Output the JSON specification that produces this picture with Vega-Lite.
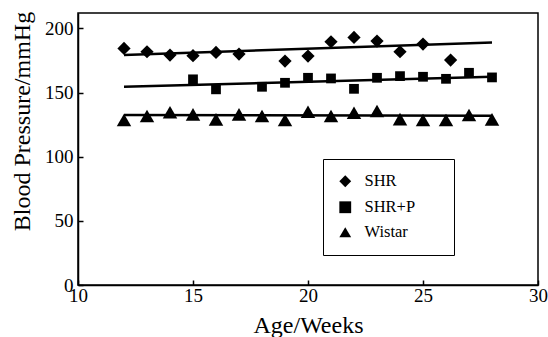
{
  "$schema": "https://vega.github.io/schema/vega-lite/v6.json",
  "width": 460,
  "height": 272,
  "autosize": {"type": "none"},
  "padding": {"left": 78, "top": 13, "right": 10, "bottom": 52},
  "background": "white",
  "config": {
    "font": "Liberation Serif",
    "view": {"stroke": "black", "strokeWidth": 1.5},
    "axis": {
      "grid": false,
      "domainColor": "black",
      "domainWidth": 1.5,
      "tickColor": "black",
      "tickWidth": 1.5,
      "tickSize": -5,
      "labelColor": "black",
      "labelFont": "Liberation Serif",
      "labelFontSize": 19,
      "titleFont": "Liberation Serif",
      "titleFontSize": 24,
      "titleFontWeight": "normal",
      "titleColor": "black",
      "labelFlush": false
    }
  },
  "datasets": {
    "points": [
      {"week": 12, "bp": 184.4, "group": "SHR"},
      {"week": 13, "bp": 181.8, "group": "SHR"},
      {"week": 14, "bp": 179.2, "group": "SHR"},
      {"week": 15, "bp": 178.7, "group": "SHR"},
      {"week": 16, "bp": 181.3, "group": "SHR"},
      {"week": 17, "bp": 180.0, "group": "SHR"},
      {"week": 19, "bp": 174.5, "group": "SHR"},
      {"week": 20, "bp": 178.4, "group": "SHR"},
      {"week": 21, "bp": 189.6, "group": "SHR"},
      {"week": 22, "bp": 193.0, "group": "SHR"},
      {"week": 23, "bp": 190.1, "group": "SHR"},
      {"week": 24, "bp": 181.8, "group": "SHR"},
      {"week": 25, "bp": 187.8, "group": "SHR"},
      {"week": 26.2, "bp": 175.3, "group": "SHR"},
      {"week": 15, "bp": 160.3, "group": "SHR+P"},
      {"week": 16, "bp": 152.5, "group": "SHR+P"},
      {"week": 18, "bp": 154.5, "group": "SHR+P"},
      {"week": 19, "bp": 157.6, "group": "SHR+P"},
      {"week": 20, "bp": 161.5, "group": "SHR+P"},
      {"week": 21, "bp": 161.0, "group": "SHR+P"},
      {"week": 22, "bp": 152.9, "group": "SHR+P"},
      {"week": 23, "bp": 161.5, "group": "SHR+P"},
      {"week": 24, "bp": 162.8, "group": "SHR+P"},
      {"week": 25, "bp": 162.3, "group": "SHR+P"},
      {"week": 26, "bp": 160.7, "group": "SHR+P"},
      {"week": 27, "bp": 165.4, "group": "SHR+P"},
      {"week": 28, "bp": 161.8, "group": "SHR+P"},
      {"week": 12, "bp": 128.6, "group": "Wistar"},
      {"week": 13, "bp": 131.7, "group": "Wistar"},
      {"week": 14, "bp": 134.6, "group": "Wistar"},
      {"week": 15, "bp": 133.0, "group": "Wistar"},
      {"week": 16, "bp": 129.1, "group": "Wistar"},
      {"week": 17, "bp": 133.0, "group": "Wistar"},
      {"week": 18, "bp": 131.7, "group": "Wistar"},
      {"week": 19, "bp": 128.6, "group": "Wistar"},
      {"week": 20, "bp": 135.0, "group": "Wistar"},
      {"week": 21, "bp": 131.7, "group": "Wistar"},
      {"week": 22, "bp": 134.2, "group": "Wistar"},
      {"week": 23, "bp": 135.6, "group": "Wistar"},
      {"week": 24, "bp": 129.3, "group": "Wistar"},
      {"week": 25, "bp": 128.6, "group": "Wistar"},
      {"week": 26, "bp": 128.6, "group": "Wistar"},
      {"week": 27, "bp": 132.5, "group": "Wistar"},
      {"week": 28, "bp": 129.1, "group": "Wistar"}
    ]
  },
  "layer": [
    {
      "data": {
        "values": [
          {"week": 12, "bp": 179.2, "group": "SHR"},
          {"week": 28, "bp": 189.1, "group": "SHR"},
          {"week": 12, "bp": 154.5, "group": "SHR+P"},
          {"week": 28, "bp": 162.3, "group": "SHR+P"},
          {"week": 12, "bp": 132.5, "group": "Wistar"},
          {"week": 28, "bp": 132.0, "group": "Wistar"}
        ]
      },
      "mark": {"type": "line", "color": "black", "strokeWidth": 2.5},
      "encoding": {
        "x": {"field": "week", "type": "quantitative", "scale": {"domain": [10, 30]},
          "axis": {"values": [10, 15, 20, 25, 30], "title": "Age/Weeks", "labelFont": "Liberation Serif", "labelPadding": 6, "titleY": 47, "titleBaseline": "alphabetic"}},
        "y": {"field": "bp", "type": "quantitative", "scale": {"domain": [0, 212], "nice": false},
          "axis": {"values": [0, 50, 100, 150, 200], "title": "Blood Pressure/mmHg", "labelFont": "Liberation Serif", "labelPadding": 10, "titleX": -44, "titleY": 108}},
        "detail": {"field": "group"}
      }
    },
    {
      "data": {"name": "points"},
      "transform": [{"filter": "datum.group === 'SHR'"}],
      "mark": {"type": "point", "filled": true, "color": "black", "opacity": 1, "size": 175},
      "encoding": {
        "x": {"field": "week", "type": "quantitative"},
        "y": {"field": "bp", "type": "quantitative"},
        "shape": {
          "field": "group", "type": "nominal",
          "scale": {"domain": ["SHR", "SHR+P", "Wistar"], "range": ["diamond", "square", "triangle-up"]},
          "legend": {"title": "\u2800\u2800", "titleOrient": "right", "titleFontSize": 16, "titlePadding": 0, "titleFont": "DejaVu Sans",
            "orient": "none", "legendX": 245, "legendY": 146, "padding": 14, "rowPadding": 7, "labelOffset": 11,
            "symbolSize": 140, "symbolFillColor": "black", "symbolStrokeColor": "black",
            "strokeColor": "black", "fillColor": "white",
            "labelFont": "Liberation Serif", "labelFontSize": 16.5, "labelColor": "black"}
        }
      }
    },
    {
      "data": {"name": "points"},
      "transform": [{"filter": "datum.group === 'SHR+P'"}],
      "mark": {"type": "point", "filled": true, "color": "black", "opacity": 1, "size": 95},
      "encoding": {
        "x": {"field": "week", "type": "quantitative"},
        "y": {"field": "bp", "type": "quantitative"},
        "shape": {"field": "group", "type": "nominal"}
      }
    },
    {
      "data": {"name": "points"},
      "transform": [{"filter": "datum.group === 'Wistar'"}],
      "mark": {"type": "point", "filled": true, "color": "black", "opacity": 1, "size": 210},
      "encoding": {
        "x": {"field": "week", "type": "quantitative"},
        "y": {"field": "bp", "type": "quantitative"},
        "shape": {"field": "group", "type": "nominal"}
      }
    }
  ]
}
